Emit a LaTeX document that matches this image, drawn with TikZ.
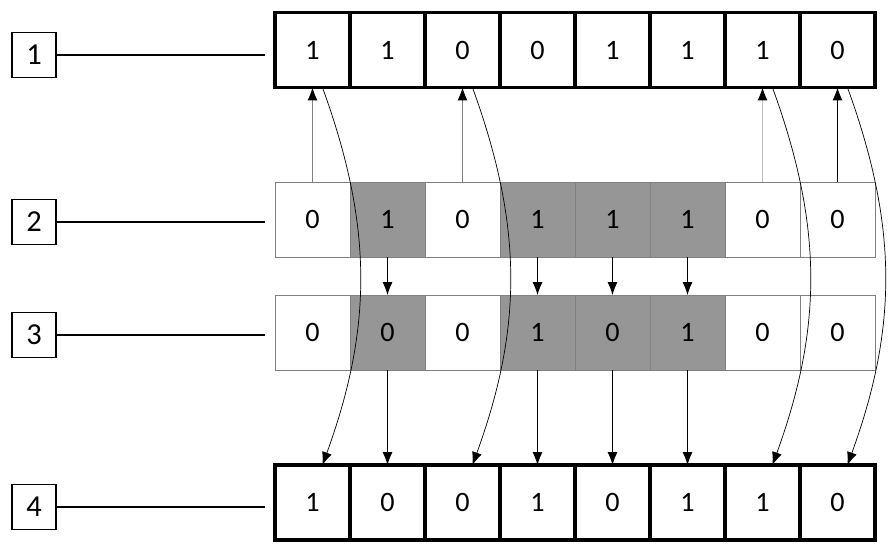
\documentclass[tikz,border=0pt]{standalone}
\usepackage{fontspec}
\setmainfont{Carlito}
\usetikzlibrary{arrows.meta}
\definecolor{cellgray}{RGB}{150,150,150}
\tikzset{
  cell/.style={minimum width=2.25cm, minimum height=2.25cm, inner sep=0pt, outer sep=0pt, font=\fontsize{24}{28}\selectfont},
  boldcell/.style={cell, draw=black, line width=2.6pt, fill=white},
  thincell/.style={cell, draw=black!50, line width=0.8pt},
  tag/.style={draw, line width=1.1pt, minimum width=1.32cm, minimum height=1.35cm, inner sep=0pt, font=\fontsize{26}{30}\selectfont},
  arr/.style={-{Latex[length=11pt,width=8.5pt,color=black]}, line width=0.7pt},
}

\begin{document}
\begin{tikzpicture}[x=0.03cm, y=-0.03cm]
\useasboundingbox (0,0) rectangle (890,546);
% rows
\foreach \b [count=\i] in {1,1,0,0,1,1,1,0}
  \node[boldcell] (a\i) at (237.5+75*\i, 50) {\b};
\foreach \b/\f [count=\i] in {0/white,1/cellgray,0/white,1/cellgray,1/cellgray,1/cellgray,0/white,0/white}
  \node[thincell, fill=\f] (b\i) at (237.5+75*\i, 219.5) {\b};
\foreach \b/\f [count=\i] in {0/white,0/cellgray,0/white,1/cellgray,0/cellgray,1/cellgray,0/white,0/white}
  \node[thincell, fill=\f] (c\i) at (237.5+75*\i, 332.5) {\b};
\foreach \b [count=\i] in {1,0,0,1,0,1,1,0}
  \node[boldcell] (d\i) at (237.5+75*\i, 502.5) {\b};
% tags
\node[tag] (t1) at (34,55) {1};
\node[tag] (t2) at (34,222) {2};
\node[tag] (t3) at (34,335) {3};
\node[tag] (t4) at (34,507) {4};
\coordinate (e1) at (265,55);
\coordinate (e2) at (265,222);
\coordinate (e3) at (265,335);
\coordinate (e4) at (265,507);
\draw[line width=1.1pt] (t1.east) -- (e1);
\draw[line width=1.1pt] (t2.east) -- (e2);
\draw[line width=1.1pt] (t3.east) -- (e3);
\draw[line width=1.8pt] (t4.east) -- (e4);
% arrows
\foreach \i/\c in {1/gray,3/gray,7/gray!50,8/black}
  \draw[arr, draw=\c] (b\i.north) -- (a\i.south);
\foreach \i in {2,4,5,6} {
  \draw[arr] (b\i.south) -- (c\i.north);
  \draw[arr] (c\i.south) -- (d\i.north);
}
\foreach \i in {1,3,7,8}
  \draw[arr, line width=0.6pt] ([xshift=8.5pt]a\i.south) to[bend left=20] ([xshift=8.5pt]d\i.north);
\end{tikzpicture}
\end{document}
